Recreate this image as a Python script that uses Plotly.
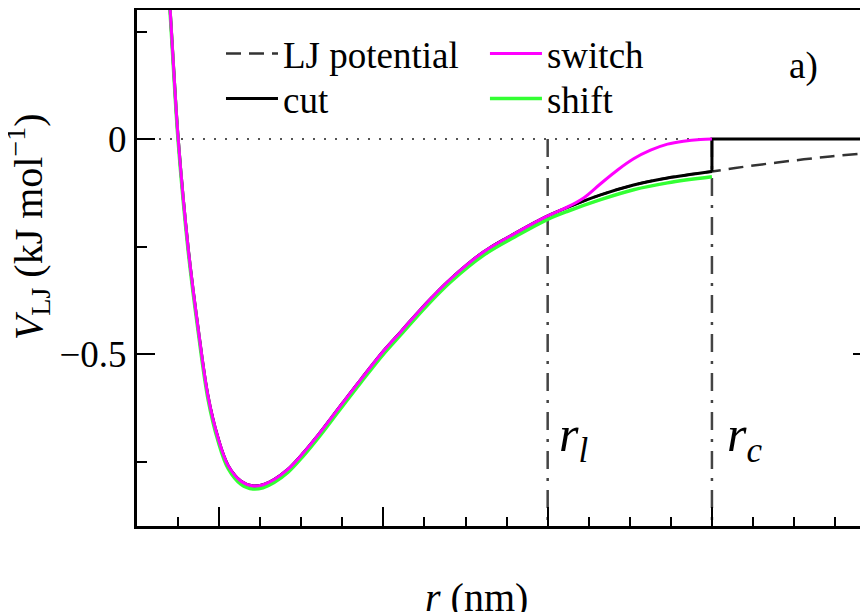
import plotly.graph_objects as go

# ---------------- data ----------------
R_LJ = [0.5380, 0.5404, 0.5441, 0.5502, 0.5623, 0.5745, 0.5866, 0.5988, 0.6109, 0.6267,
        0.6413, 0.6535, 0.6669, 0.6839, 0.7021, 0.7240, 0.7483, 0.7726, 0.8006, 0.8213,
        0.8517, 0.8821, 0.9222, 0.9635, 1.0000, 1.0243, 1.0644, 1.1046, 1.1459, 1.2000,
        1.2468, 1.2954, 1.3441, 1.3903]
V_LJ = [0.390, 0.299, 0.181, 0.000, -0.253, -0.441, -0.599, -0.696, -0.759, -0.796,
        -0.807, -0.804, -0.792, -0.768, -0.731, -0.680, -0.619, -0.559, -0.492, -0.448,
        -0.383, -0.325, -0.262, -0.216, -0.179, -0.159, -0.130, -0.107, -0.0905, -0.0754,
        -0.0626, -0.0510, -0.0406, -0.0325]
# shift: same radii as R_LJ up to the cut-off
V_SHIFT = [0.383, 0.292, 0.174, -0.007, -0.260, -0.448, -0.606, -0.703, -0.766, -0.803,
           -0.814, -0.811, -0.799, -0.775, -0.738, -0.687, -0.626, -0.566, -0.499, -0.455,
           -0.390, -0.332, -0.270, -0.224, -0.187, -0.168, -0.141, -0.118, -0.102, -0.088]
# switch: equals LJ up to r1, then this tail
R_SWITCH_TAIL = [1.0243, 1.0438, 1.0644, 1.0851, 1.1046, 1.1252, 1.1459, 1.1653, 1.1860, 1.2000]
V_SWITCH_TAIL = [-0.158, -0.137, -0.104, -0.072, -0.046, -0.026, -0.012, -0.005, -0.001, 0.000]

R1 = 1.0
RC = 1.2
X_RANGE = [0.5, 1.39]
Y_RANGE = [-0.9, 0.3]
Y_TICKS = [0, -0.5]
Y_TICK_LABELS = ["0", "\u22120.5"]
SERIES_NAMES = ["LJ potential", "cut", "switch", "shift"]

FONT = "Liberation Serif"
FS = 37

n_cut = R_LJ.index(RC) + 1
n_r1 = R_LJ.index(R1) + 1

fig = go.Figure()

# LJ potential (dashed)
fig.add_trace(go.Scatter(x=R_LJ, y=V_LJ, mode="lines", name=SERIES_NAMES[0],
                         line=dict(color="#333333", width=2.5, dash="15px,8px", shape="spline"),
                         legend="legend"))
# cut
fig.add_trace(go.Scatter(x=R_LJ[:n_cut], y=V_LJ[:n_cut], mode="lines", name=SERIES_NAMES[1],
                         line=dict(color="black", width=3, shape="spline"),
                         legend="legend2", legendgroup="cut"))
fig.add_trace(go.Scatter(x=[RC, RC, X_RANGE[1]], y=[V_LJ[n_cut - 1], 0, 0], mode="lines",
                         name=SERIES_NAMES[1], showlegend=False, legendgroup="cut",
                         line=dict(color="black", width=3), legend="legend2"))
# shift
fig.add_trace(go.Scatter(x=R_LJ[:n_cut], y=V_SHIFT, mode="lines", name=SERIES_NAMES[3],
                         line=dict(color="#33ff33", width=3.5, shape="spline"),
                         legend="legend4"))
# switch
fig.add_trace(go.Scatter(x=R_LJ[:n_r1] + R_SWITCH_TAIL, y=V_LJ[:n_r1] + V_SWITCH_TAIL,
                         mode="lines", name=SERIES_NAMES[2],
                         line=dict(color="#ff00ff", width=3, shape="spline"),
                         legend="legend3"))
# dummy trace for the mirrored right-hand ticks
fig.add_trace(go.Scatter(x=[None], y=[None], yaxis="y2", showlegend=False, hoverinfo="skip"))

# zero line (dotted) and r1 / rc markers (dash-dot)
fig.add_shape(type="line", x0=X_RANGE[0], x1=RC, y0=0, y1=0, xref="x", yref="y",
              line=dict(color="#555555", width=2, dash="2px,9px"), layer="below")
for xv in (R1, RC):
    fig.add_shape(type="line", x0=xv, x1=xv, y0=0, y1=Y_RANGE[0], xref="x", yref="y",
                  line=dict(color="#444444", width=2.5, dash="18px,9px,3px,9px"), layer="below")

# text labels
fig.add_annotation(x=1.011, y=-0.696, xref="x", yref="y", xanchor="left", yanchor="middle",
                   text="<i>r</i><sub><i>l</i></sub>", showarrow=False,
                   font=dict(family=FONT, size=50, color="black"))
fig.add_annotation(x=1.216, y=-0.696, xref="x", yref="y", xanchor="left", yanchor="middle",
                   text="<i>r</i><sub><i>c</i></sub>", showarrow=False,
                   font=dict(family=FONT, size=50, color="black"))
fig.add_annotation(x=1.312, y=0.169, xref="x", yref="y", xanchor="center", yanchor="middle",
                   text="a)", showarrow=False, font=dict(family=FONT, size=FS, color="black"))
fig.add_annotation(x=-0.149, y=0.5794, xref="paper", yref="paper", xanchor="center", yanchor="middle",
                   text="<i>V</i><sub>LJ</sub> (kJ mol<sup>\u22121</sup>)", textangle=-90,
                   showarrow=False, font=dict(family=FONT, size=40, color="black"))
fig.add_annotation(x=0.465, y=-0.1376, xref="paper", yref="paper", xanchor="center", yanchor="middle",
                   text="<i>r</i> (nm)", showarrow=False, font=dict(family=FONT, size=40, color="black"))

leg_common = dict(font=dict(family=FONT, size=FS, color="black"), bgcolor="rgba(0,0,0,0)",
                  borderwidth=0, xanchor="left", yanchor="middle", itemwidth=52)
col1, col2 = 0.1149, 0.476
row1, row2 = 0.915, 0.8275

fig.update_layout(
    width=860, height=604,
    margin=dict(l=129, r=0, t=2, b=86),
    paper_bgcolor="white", plot_bgcolor="white",
    font=dict(family=FONT, size=FS, color="black"),
    showlegend=True,
    legend=dict(x=col1, y=row1, **leg_common),
    legend2=dict(x=col1, y=row2, **leg_common),
    legend3=dict(x=col2, y=row1, **leg_common),
    legend4=dict(x=col2, y=row2, **leg_common),
    xaxis=dict(range=X_RANGE, showgrid=False, zeroline=False, showline=True, linecolor="black",
               linewidth=3, mirror=True, ticks="inside", ticklen=19, tickwidth=2, tickcolor="black",
               tick0=0, dtick=0.2, showticklabels=False,
               minor=dict(ticks="inside", ticklen=9, tickwidth=2, tickcolor="black", dtick=0.05)),
    yaxis=dict(range=Y_RANGE, showgrid=False, zeroline=False, showline=True, linecolor="black",
               linewidth=3, mirror=False, ticks="inside", ticklen=18, tickwidth=2, tickcolor="black",
               tickvals=Y_TICKS, ticktext=Y_TICK_LABELS,
               tickfont=dict(family=FONT, size=FS, color="black"),
               minor=dict(ticks="inside", ticklen=10, tickwidth=2, tickcolor="black", dtick=0.25)),
    yaxis2=dict(range=Y_RANGE, overlaying="y", side="right", anchor="x", showgrid=False,
                zeroline=False, showline=False, ticks="inside", ticklen=15, tickwidth=2,
                tickcolor="black", tickvals=Y_TICKS, showticklabels=False,
                minor=dict(ticks="inside", ticklen=7, tickwidth=2, tickcolor="black", dtick=0.25)),
)

fig.write_html("out.html")
